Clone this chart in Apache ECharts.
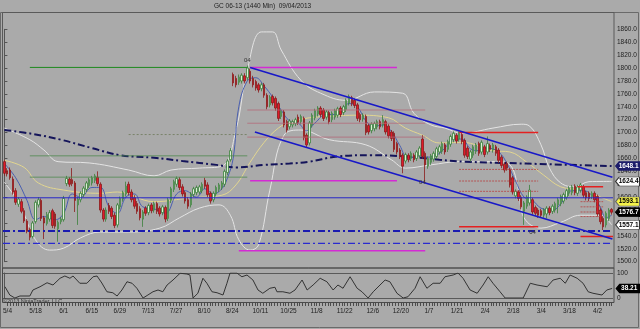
<!DOCTYPE html>
<html><head><meta charset="utf-8">
<script src="https://cdn.jsdelivr.net/npm/echarts@6/dist/echarts.min.js"></script>
<style>html,body{margin:0;padding:0;background:#aaaaaa;}#c{width:640px;height:329px;}</style>
</head><body><div id="c"></div>
<script>
// ---- data ----
const tickLabels = ['5/4','5/18','6/1','6/15','6/29','7/13','7/27','8/10','8/24','10/11','10/25','11/8','11/22','12/6','12/20','1/7','1/21','2/4','2/18','3/4','3/18','4/2'];
// [open, close, low, high]
const ohlc = [
[1655,1637,1633,1658],[1641,1636,1632,1645],[1642,1630,1627,1646],[1628,1608,1604,1632],[1610,1592,1588,1614],
[1589,1597,1585,1600],[1593,1578,1575,1597],[1579,1563,1560,1583],[1563,1547,1544,1566],[1550,1538,1533,1553],
[1539,1560,1536,1563],[1562,1592,1559,1595],[1588,1596,1584,1600],[1595,1567,1563,1598],[1568,1560,1535,1571],
[1559,1573,1556,1577],[1566,1576,1562,1580],[1579,1556,1552,1582],[1574,1555,1551,1577],[1551,1561,1531,1564],
[1562,1566,1558,1569],[1565,1598,1562,1602],[1621,1629,1617,1633],[1628,1620,1616,1631],[1627,1621,1617,1645],
[1622,1595,1577,1625],[1588,1597,1557,1600],[1596,1606,1592,1609],[1604,1614,1600,1617],[1612,1622,1608,1625],
[1618,1627,1614,1630],[1622,1630,1618,1633],[1626,1633,1622,1636],[1631,1621,1617,1640],[1620,1580,1576,1623],
[1580,1566,1562,1583],[1566,1580,1562,1584],[1587,1578,1574,1591],[1583,1570,1566,1586],[1572,1556,1552,1576],
[1557,1588,1553,1591],[1585,1598,1581,1601],[1597,1607,1593,1610],[1605,1617,1601,1624],[1620,1607,1603,1624],
[1608,1596,1592,1612],[1599,1586,1582,1603],[1590,1578,1574,1594],[1582,1568,1564,1586],[1566,1577,1554,1580],
[1583,1575,1571,1586],[1576,1587,1572,1590],[1588,1579,1575,1591],[1580,1590,1576,1593],[1590,1578,1574,1593],
[1583,1574,1570,1586],[1576,1585,1572,1588],[1584,1566,1561,1587],[1567,1596,1563,1599],[1595,1613,1591,1616],
[1612,1624,1608,1627],[1620,1629,1616,1632],[1627,1615,1611,1631],[1616,1605,1601,1620],[1607,1594,1590,1610],
[1596,1586,1582,1600],[1588,1605,1584,1608],[1604,1613,1600,1616],[1607,1615,1603,1618],[1608,1616,1604,1619],
[1610,1620,1606,1623],[1626,1617,1613,1630],[1619,1604,1600,1623],[1606,1594,1590,1609],[1596,1606,1592,1609],
[1605,1615,1601,1618],[1612,1619,1608,1622],[1615,1622,1611,1625],[1620,1640,1616,1643],[1638,1656,1634,1659],
[1658,1672,1655,1676],[1790,1777,1772,1793],[1784,1774,1770,1788],[1778,1786,1774,1790],[1780,1789,1776,1792],
[1788,1780,1776,1792],[1785,1800,1781,1804],[1795,1780,1776,1799],[1784,1774,1770,1788],[1779,1769,1765,1782],
[1774,1766,1762,1777],[1768,1774,1764,1777],[1774,1758,1754,1777],[1758,1740,1736,1761],[1743,1755,1739,1758],
[1756,1746,1742,1759],[1753,1738,1734,1756],[1745,1722,1718,1748],[1725,1733,1721,1736],[1732,1712,1708,1735],
[1717,1704,1700,1720],[1709,1718,1705,1721],[1712,1717,1708,1720],[1714,1720,1710,1723],[1724,1716,1712,1728],
[1717,1725,1713,1728],[1722,1692,1688,1725],[1696,1681,1677,1699],[1684,1715,1680,1718],[1712,1727,1708,1730],
[1723,1734,1719,1737],[1729,1738,1725,1741],[1738,1728,1724,1741],[1735,1722,1718,1738],[1724,1732,1720,1735],
[1731,1717,1713,1734],[1720,1730,1716,1733],[1724,1734,1720,1737],[1727,1737,1723,1740],[1738,1728,1724,1741],
[1731,1740,1727,1743],[1736,1750,1732,1753],[1746,1756,1742,1759],[1754,1745,1741,1757],[1750,1742,1738,1753],
[1743,1722,1718,1746],[1728,1720,1716,1731],[1721,1727,1717,1730],[1725,1700,1696,1728],[1711,1701,1697,1714],
[1703,1713,1699,1716],[1706,1714,1702,1717],[1709,1717,1705,1720],[1717,1709,1705,1720],[1712,1720,1708,1727],
[1717,1701,1697,1720],[1710,1695,1691,1713],[1701,1691,1687,1704],[1699,1674,1670,1702],[1683,1670,1666,1686],
[1673,1663,1659,1676],[1665,1648,1637,1668],[1656,1666,1652,1669],[1665,1658,1654,1668],[1660,1668,1656,1671],
[1665,1658,1654,1668],[1660,1670,1656,1673],[1664,1676,1660,1679],[1690,1663,1659,1696],[1668,1650,1623,1671],
[1648,1660,1644,1663],[1654,1664,1650,1667],[1659,1668,1655,1671],[1663,1675,1659,1678],[1670,1678,1666,1681],
[1671,1683,1667,1686],[1681,1670,1666,1684],[1674,1686,1670,1689],[1682,1694,1678,1697],[1689,1699,1685,1702],
[1696,1687,1683,1699],[1690,1699,1686,1702],[1697,1686,1682,1701],[1688,1665,1661,1691],[1676,1663,1659,1679],
[1659,1670,1655,1673],[1665,1678,1661,1681],[1671,1681,1667,1684],[1683,1668,1664,1686],[1670,1685,1666,1688],
[1678,1666,1662,1681],[1670,1683,1666,1694],[1680,1674,1670,1683],[1673,1681,1669,1684],[1678,1668,1664,1681],
[1673,1657,1653,1676],[1662,1649,1645,1665],[1651,1642,1638,1654],[1652,1645,1641,1655],[1642,1619,1615,1645],
[1630,1608,1604,1633],[1602,1609,1598,1612],[1608,1598,1594,1611],[1600,1585,1581,1603],[1578,1591,1557,1594],
[1586,1600,1582,1603],[1591,1611,1587,1619],[1596,1577,1573,1599],[1584,1575,1571,1587],[1580,1572,1568,1583],
[1579,1572,1568,1582],[1572,1580,1568,1583],[1574,1583,1567,1586],[1583,1576,1572,1586],[1578,1586,1574,1589],
[1580,1590,1576,1593],[1588,1596,1575,1599],[1590,1601,1586,1604],[1594,1604,1590,1607],[1600,1610,1596,1613],
[1606,1614,1602,1617],[1607,1616,1603,1619],[1617,1607,1603,1620],[1606,1616,1602,1619],[1611,1619,1607,1622],
[1616,1603,1599,1619],[1607,1599,1595,1610],[1606,1598,1594,1609],[1601,1606,1597,1609],[1606,1596,1592,1609],
[1601,1574,1570,1604],[1580,1562,1558,1583],[1567,1554,1549,1570],[1557,1575,1553,1578],[1567,1580,1563,1583],
[1581,1576.7,1573,1583]
];
// indicator lines: [bar index, value]
const ma200 = [[0,1704],[10,1698],[20,1689],[31,1676],[41,1665],[53,1661],[63,1656],[75,1650],[82,1646],[92,1650],[101,1652],[108,1655],[118,1663],[130,1665],[142,1663],[154,1658],[163,1655],[185,1652],[215,1648.1]];
const bbUpper = [[0,1707],[9,1689],[14,1673],[19,1655],[30,1653],[44,1642],[53,1633],[59,1642],[69,1645],[77,1648],[82,1704],[86,1797],[91,1856],[95,1856],[98,1828],[105,1781],[112,1761],[121,1750],[131,1763],[141,1761],[145,1730],[151,1712],[156,1707],[162,1699],[173,1707],[183,1713],[186,1710],[190,1681],[193,1645],[197,1622],[202,1616],[207,1624],[215,1624.4]];
const bbLower = [[0,1623],[5.5,1588],[11,1534],[16,1518],[21,1521],[27,1537],[34,1546],[44,1546],[55,1552],[62,1568],[69,1583],[76,1588],[80,1572],[83,1534],[87,1518],[90,1526],[94,1611],[99,1696],[105,1704],[115,1689],[128,1681],[137,1658],[142,1645],[151,1650],[161,1655],[174,1655],[179,1650],[182,1611],[184,1568],[190,1552],[197,1561],[204,1572],[211,1572],[215,1557.1]];
const maMid = [[0,1657],[7,1646],[12,1622],[21,1611],[34,1606],[40,1608],[53,1593],[66,1599],[77,1603],[82,1619],[87,1654],[92,1685],[97,1707],[101,1716],[108,1723],[114,1725],[125,1727],[136,1723],[142,1707],[148,1696],[154,1684],[162,1685],[173,1672],[179,1670],[185,1654],[191,1634],[197,1616],[204,1611],[215,1593.1]];
const maFast = [[0,1652],[4,1630],[8,1595],[11,1565],[14,1570],[18,1565],[21,1575],[24,1605],[27,1600],[31,1615],[34,1615],[37,1585],[40,1575],[43,1600],[46,1605],[49,1585],[53,1582],[57,1575],[61,1605],[64,1610],[68,1600],[71,1613],[74,1605],[77,1613],[79,1630],[81,1660],[83,1740],[86,1780],[89,1785],[92,1772],[95,1755],[98,1735],[101,1718],[104,1715],[107,1703],[110,1715],[114,1728],[118,1728],[122,1745],[125,1740],[128,1718],[131,1710],[134,1712],[137,1702],[140,1680],[143,1660],[147,1664],[150,1662],[153,1665],[156,1676],[159,1690],[162,1690],[165,1675],[168,1672],[171,1676],[175,1670],[178,1652],[181,1625],[184,1600],[187,1595],[190,1583],[194,1580],[198,1595],[201,1610],[205,1610],[208,1603],[211,1585],[213,1568],[215,1572]];
const osc = [[0.2,45],[1.9,12],[3.7,0],[5.5,8],[9,8],[10.1,32],[12.6,45],[15.1,61],[17.2,52],[19.7,79],[21.4,88],[23.2,79],[24.3,88],[26.7,59],[29.2,59],[31.4,85],[32.8,88],[34.5,60],[36.3,25],[38.4,21],[39.9,8],[41.6,32],[43.4,65],[45.2,59],[46.9,39],[49.1,0],[50.8,12],[52.6,25],[54.4,32],[56.1,25],[57.6,52],[59.7,72],[62.2,99],[64.6,96],[65.7,92],[66.8,0],[68.5,19],[70.3,79],[71.7,59],[73.5,25],[75.3,21],[77.4,12],[78.8,59],[79.9,100],[82.3,100],[84.1,85],[85.9,92],[88,72],[89.8,32],[91.5,19],[94,39],[95.8,43],[96.5,25],[98.6,25],[101.1,19],[102.9,32],[105.4,72],[107.2,32],[109.3,52],[111.8,79],[114.2,65],[116.4,32],[118.1,52],[119.9,39],[122.4,85],[124.9,39],[126.6,25],[128.8,0],[130.6,25],[133,52],[134.8,72],[136.5,65],[139,19],[141.2,0],[142.9,5],[145.4,39],[147.2,85],[149.6,39],[151.8,59],[154.3,59],[156,85],[158.9,92],[160.6,100],[162.4,79],[164.9,32],[167.4,19],[169.5,52],[171.3,85],[173,59],[175.5,25],[177.3,0],[183.7,0],[186.2,59],[188.6,52],[192.2,45],[194.3,72],[196.8,79],[198.6,59],[200.3,92],[202.8,79],[204.9,59],[206.7,25],[208.4,19],[211.6,12],[213.3,32],[215.2,38.21]];
// drawn levels: [price, from bar, to bar]
const greenLevels = [[1801,9,86]];
const greenThinLevels = [[1664,9,86],[1631,9,86]];
const greyDotLevels = [[1697,44,86]];
const magentaLevels = [[1801,87,139],[1625.5,87,139],[1517,83,149]];
const pinkLevels = [[1735,86,149],[1714.5,86,149],[1693,86,149]];
const blueLevels = [[1599,-0.5,215.5]];
const blueDashLevels = [[1547.5,-0.5,215.5]];
const blueDash2Levels = [[1528.5,-0.5,215.5]];
const redLevels = [[1700,161,189],[1554,161,189],[1616,203,212],[1539,204,215.5]];
const redThinLevels = [[1643,161,189],[1625,161,189],[1609,161,189],[1593,204,212],[1585,204,212],[1577,204,212],[1570,204,212]];
// channel: [[bar, price],[bar, price]]
const channelUpper = [[87,1801],[215.3,1631]];
const channelLower = [[88.7,1701],[215.3,1535]];
const swingMarks = [[86,1812,'04'],[148,1623,'04'],[187,1546,'04']];
const title = 'GC 06-13 (1440 Min)  09/04/2013';

// ---- chart ----
const cats = ohlc.map((d, i) => i);
const chart = echarts.init(document.getElementById('c'), null, {renderer: 'canvas'});
const FONT = 'Liberation Sans, Arial, sans-serif';

function levelSeries(levels, style, z) {
  return levels.map(l => ({
    type: 'line', xAxisIndex: 1, yAxisIndex: 0, symbol: 'none', silent: true, z: z || 4,
    data: [[l[1], l[0]], [l[2], l[0]]], lineStyle: style, animation: false
  }));
}
function tag(val, bg, fg, border) {
  return {
    coord: null, value: val,
    symbol: 'path://M0,5 L4,0 L26,0 L26,10 L4,10 Z', symbolSize: [24, 9], symbolOffset: [16, 0],
    itemStyle: {color: bg, borderColor: border || bg, borderWidth: 0.8},
    label: {show: true, position: 'inside', offset: [1, 0], formatter: String(val), color: fg, fontSize: 6.5, fontWeight: 'bold', fontFamily: FONT}
  };
}
function lastTag(arr, bg, fg, border) {
  const last = arr[arr.length - 1];
  const t = tag(last[1], bg, fg, border);
  t.coord = [last[0], last[1]];
  return {data: [t], animation: false, silent: true};
}
const closeTag = tag(ohlc[ohlc.length - 1][1], '#000', '#fff');
closeTag.coord = [ohlc.length - 1, ohlc[ohlc.length - 1][1]];

const series = [
  {type: 'line', xAxisIndex: 1, yAxisIndex: 0, data: bbUpper, symbol: 'none', smooth: 0.4, z: 1,
   lineStyle: {color: '#e4e4e4', width: 1}, markPoint: lastTag(bbUpper, '#fff', '#000', '#333')},
  {type: 'line', xAxisIndex: 1, yAxisIndex: 0, data: bbLower, symbol: 'none', smooth: 0.4, z: 1,
   lineStyle: {color: '#e4e4e4', width: 1}, markPoint: lastTag(bbLower, '#fff', '#000', '#333')},
  {type: 'line', xAxisIndex: 1, yAxisIndex: 0, data: maMid, symbol: 'none', smooth: 0.4, z: 1,
   lineStyle: {color: '#e2d690', width: 1}, markPoint: lastTag(maMid, '#f4f24a', '#000', '#666')},
  {type: 'line', xAxisIndex: 1, yAxisIndex: 0, data: ma200, symbol: 'none', smooth: 0.4, z: 3,
   lineStyle: {color: '#14145a', width: 2, type: [7, 3, 2, 3]}, markPoint: lastTag(ma200, '#1c1c6a', '#fff')},
  {type: 'line', xAxisIndex: 1, yAxisIndex: 0, data: maFast, symbol: 'none', smooth: 0.4, z: 1,
   lineStyle: {color: '#4a5fb0', width: 1}},
  ...levelSeries(greenLevels, {color: '#1e8a1e', width: 1}),
  ...levelSeries(greenThinLevels, {color: '#4f8a4f', width: 0.8}),
  ...levelSeries(greyDotLevels, {color: '#6d7a5a', width: 0.8, type: [2, 2]}),
  ...levelSeries(magentaLevels, {color: '#d42ad4', width: 1.5}),
  ...levelSeries(pinkLevels, {color: '#b46a7a', width: 0.8}),
  ...levelSeries(blueLevels, {color: '#2525c8', width: 1}),
  ...levelSeries(blueDashLevels, {color: '#1a1ab0', width: 2, type: [7, 3, 2, 3]}),
  ...levelSeries(blueDash2Levels, {color: '#2a2ad0', width: 1.2, type: [7, 3, 2, 3]}),
  ...levelSeries(redLevels, {color: '#e42020', width: 1.5}),
  ...levelSeries(redThinLevels, {color: '#b84040', width: 0.8, type: [2, 1]}),
  {type: 'line', xAxisIndex: 1, yAxisIndex: 0, data: channelUpper, symbol: 'none', z: 4, lineStyle: {color: '#1818c8', width: 1.6}},
  {type: 'line', xAxisIndex: 1, yAxisIndex: 0, data: channelLower, symbol: 'none', z: 4, lineStyle: {color: '#1818c8', width: 1.6}},
  {type: 'candlestick', xAxisIndex: 0, yAxisIndex: 0, data: ohlc, barWidth: 2, z: 3,
   itemStyle: {color: '#dcefd6', color0: '#e01a2a', borderColor: '#3b803b', borderColor0: '#8a1a1a', borderWidth: 0.8},
   markPoint: {animation: false, silent: true, data: [closeTag].concat(swingMarks.map(m => ({
     coord: [m[0], m[1]], symbol: 'circle', symbolSize: 1, itemStyle: {color: 'rgba(0,0,0,0)'},
     label: {show: true, position: 'inside', formatter: m[2], color: '#333', fontSize: 6, fontFamily: FONT}
   })))}},
  {type: 'line', xAxisIndex: 2, yAxisIndex: 1, data: osc, symbol: 'none', z: 3,
   lineStyle: {color: '#333', width: 1}, markPoint: lastTag(osc, '#000', '#fff')}
];

chart.setOption({
  backgroundColor: '#aaaaaa',
  animation: false,
  textStyle: {fontFamily: FONT},
  grid: [
    {left: 3, width: 610, top: 29.33, height: 232.37},
    {left: 3, width: 610, top: 273, height: 25},
    {left: 3, width: 610, top: 302, height: 1}
  ],
  xAxis: [
    {type: 'category', gridIndex: 0, data: cats, show: false},
    {type: 'value', gridIndex: 0, min: -0.5, max: 215.5, show: false},
    {type: 'value', gridIndex: 1, min: -0.5, max: 215.5, show: false},
    {type: 'category', gridIndex: 2, data: cats, position: 'bottom',
     axisLine: {show: false},
     axisTick: {show: true, interval: 0, length: 3, alignWithLabel: true, lineStyle: {color: '#333', width: 0.8}},
     axisLabel: {interval: 0, fontSize: 6.5, color: '#222', margin: 5,
       formatter: (v, i) => (i % 10 === 0 ? tickLabels[i / 10] : '')}}
  ],
  yAxis: [
    {type: 'value', gridIndex: 0, position: 'right', min: 1500, max: 1860, interval: 20, offset: 1,
     axisLine: {show: true, lineStyle: {color: '#555'}},
     axisTick: {show: true, length: 3, lineStyle: {color: '#555'}},
     axisLabel: {fontSize: 6.5, color: '#222', margin: 3, formatter: v => v.toFixed(1)},
     splitLine: {show: false}},
    {type: 'value', gridIndex: 1, position: 'right', min: 0, max: 100, interval: 100, offset: 1,
     axisLine: {show: true, lineStyle: {color: '#555'}},
     axisTick: {show: true, length: 3, lineStyle: {color: '#555'}},
     axisLabel: {fontSize: 6.5, color: '#222', margin: 3},
     splitLine: {show: true, lineStyle: {color: '#5a5a5a', width: 1}}},
    {type: 'value', gridIndex: 2, show: false}
  ],
  series: series,
  graphic: [
    {type: 'rect', shape: {x: 0.5, y: 12.5, width: 638, height: 315}, style: {fill: 'none', stroke: '#6a6a6a', lineWidth: 1}, silent: true},
    {type: 'rect', shape: {x: 2.5, y: 12.5, width: 611.5, height: 255.5}, style: {fill: 'none', stroke: '#5a5a5a', lineWidth: 1}, silent: true},
    {type: 'rect', shape: {x: 2.5, y: 268, width: 611.5, height: 34.5}, style: {fill: 'none', stroke: '#4a4a4a', lineWidth: 1}, silent: true},
    {type: 'text', left: 214, top: 2.5, style: {text: title, fontSize: 6.5, fill: '#222', fontFamily: 'Liberation Sans Narrow, Liberation Sans, Arial, sans-serif'}, silent: true},
    {type: 'text', left: 3, top: 298, style: {text: '\u00a92013 NinjaTrader, LLC', fontSize: 5.5, fill: '#333', fontFamily: FONT}, z: 10, silent: true}
  ]
});
</script></body></html>
